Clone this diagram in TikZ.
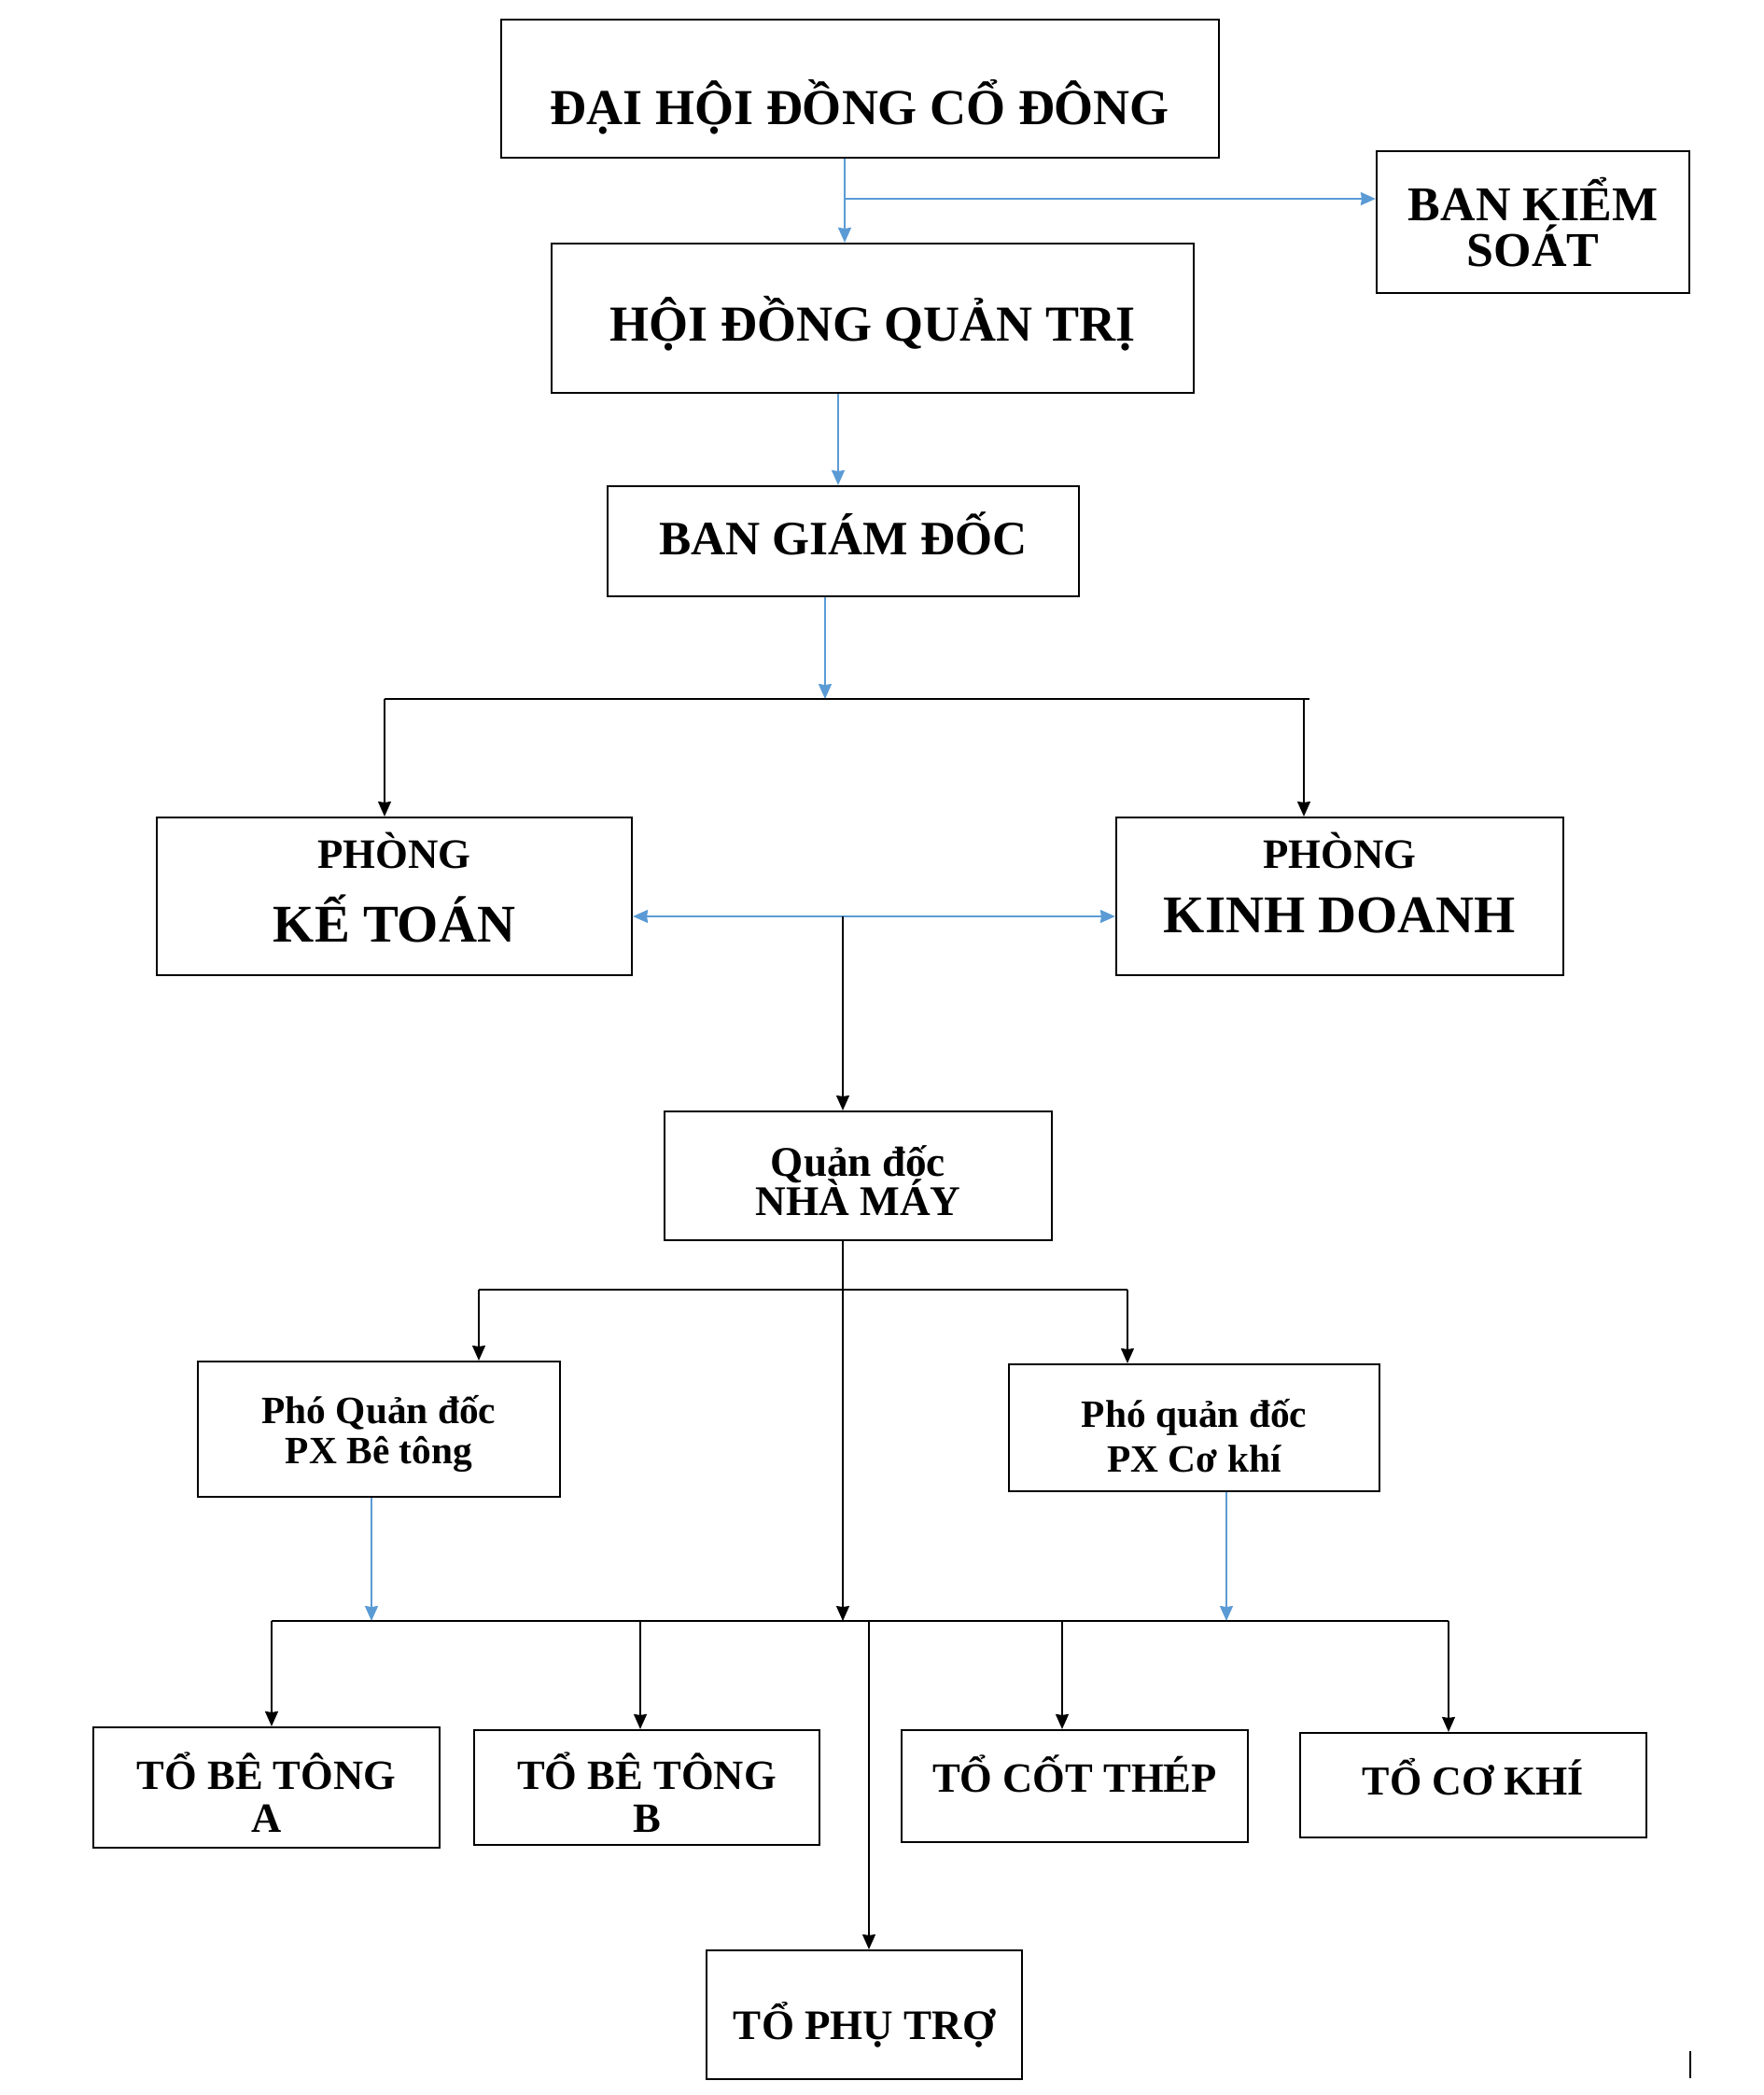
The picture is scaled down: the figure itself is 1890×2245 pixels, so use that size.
\documentclass[tikz,border=0pt]{standalone}
\usepackage{fontspec}
\setmainfont{Liberation Serif}
\usetikzlibrary{positioning,arrows.meta}
\definecolor{lineblue}{RGB}{91,155,213}
\newcommand{\cz}[2]{\bfseries\fontsize{#1}{#2}\selectfont\lineskiplimit=-30pt}

\begin{document}
\begin{tikzpicture}[>={Stealth[length=8pt,width=7pt,inset=0.5pt]}, x=0.5pt, y=-0.5pt,
  boxnode/.style={draw, line width=1.1pt, inner sep=0pt, align=center},
  bluearr/.style={->, draw=lineblue, line width=0.9pt},
  blackarr/.style={->, line width=0.8pt}]
\useasboundingbox (0,0) rectangle (1890,2245);
% boxes
\node[boxnode, minimum width=384.5pt, minimum height=74pt, font=\cz{27}{30}, text height=44pt, text depth=6pt] (dhdcd) at (921.5,95) {ĐẠI HỘI ĐỒNG CỔ ĐÔNG};
\node[boxnode, minimum width=167.5pt, minimum height=76pt, font=\cz{26}{24.3}] (bks) at (1642.5,238) {BAN KIỂM\\SOÁT};
\node[boxnode, minimum width=344pt, minimum height=80pt, font=\cz{27}{30}, text height=28pt, text depth=3.2pt] (hdqt) at (935,341) {HỘI ĐỒNG QUẢN TRỊ};
\node[boxnode, minimum width=252.5pt, minimum height=59pt, font=\cz{25.7}{30}, text height=22pt, text depth=8pt] (bgd) at (903.5,580) {BAN GIÁM ĐỐC};
\node[boxnode, minimum width=254.5pt, minimum height=84.5pt, font=\cz{28.4}{39.5}, text height=60pt, text depth=10.8pt] (pkt) at (422.5,960.5) {{\cz{22.4}{26}PHÒNG}\\KẾ TOÁN};
\node[boxnode, minimum width=239.5pt, minimum height=84.5pt, font=\cz{28.4}{34.5}, text height=52pt, text depth=12.8pt] (pkd) at (1435.5,960.5) {{\cz{22.4}{26}PHÒNG}\\KINH DOANH};
\node[boxnode, minimum width=207.5pt, minimum height=69pt, font=\cz{22.6}{20.8}, text height=45pt, text depth=3pt] (qd) at (919.5,1260) {Quản đốc\\NHÀ MÁY};
\node[boxnode, minimum width=194pt, minimum height=72.5pt, font=\cz{20.7}{21.5}, text height=40pt, text depth=2.8pt] (pqbt) at (406,1531.5) {Phó Quản đốc\\PX Bê tông};
\node[boxnode, minimum width=198.5pt, minimum height=68pt, font=\cz{20.7}{24.3}, text height=50pt, text depth=2.3pt] (pqck) at (1279.5,1530) {Phó quản đốc\\PX Cơ khí};
\node[boxnode, minimum width=185.5pt, minimum height=64.5pt, font=\cz{22.3}{22.9}, text height=52pt, text depth=3.8pt] (tbta) at (285.5,1915.5) {TỔ BÊ TÔNG\\A};
\node[boxnode, minimum width=185pt, minimum height=61.5pt, font=\cz{22.3}{22.9}, text height=52pt, text depth=3.8pt] (tbtb) at (693,1915.5) {TỔ BÊ TÔNG\\B};
\node[boxnode, minimum width=185.5pt, minimum height=60pt, font=\cz{22.3}{23}, text height=20pt, text depth=13.2pt] (tct) at (1151.5,1914) {TỔ CỐT THÉP};
\node[boxnode, minimum width=185.5pt, minimum height=56pt, font=\cz{22}{23}, text height=20pt, text depth=9.4pt] (tck) at (1578.5,1913) {TỔ CƠ KHÍ};
\node[boxnode, minimum width=169pt, minimum height=69pt, font=\cz{22.5}{23}, text height=30pt, text depth=3.2pt] (tpt) at (926,2159) {TỔ PHỤ TRỢ};
% upper part
\coordinate (k1) at (905,213);
\draw[bluearr] (dhdcd.south -| k1) -- (hdqt.north -| k1);
\draw[bluearr] (k1) -- (k1 -| bks.west);
\coordinate (k2) at (898,0);
\draw[bluearr] (hdqt.south -| k2) -- (bgd.north -| k2);
\coordinate (b1l) at (412,749);
\coordinate (b1r) at (1403,749);
\coordinate (b1m) at (884,749);
\coordinate (b1d) at (1397,749);
\draw[bluearr] (bgd.south -| b1m) -- (b1m);
\draw[line width=0.9pt] (b1l) -- (b1r);
\draw[blackarr] (b1l) -- (b1l |- pkt.north);
\draw[blackarr] (b1d) -- (b1d |- pkd.north);
\coordinate (m1) at (903,982);
\draw[bluearr, <->] (pkt.east |- m1) -- (pkd.west |- m1);
\draw[blackarr] (m1) -- (qd.north -| m1);
% lower part
\coordinate (b3m) at (903,1737);
\draw[blackarr] (qd.south -| b3m) -- (b3m);
\coordinate (b2l) at (513,1382);
\coordinate (b2r) at (1208,1382);
\draw[line width=0.9pt] (b2l) -- (b2r);
\draw[blackarr] (b2l) -- (b2l |- pqbt.north);
\draw[blackarr] (b2r) -- (b2r |- pqck.north);
\coordinate (b3a) at (398,1737);
\coordinate (b3b) at (1314,1737);
\draw[bluearr] (pqbt.south -| b3a) -- (b3a);
\draw[bluearr] (pqck.south -| b3b) -- (b3b);
\coordinate (b3l) at (291,1737);
\coordinate (b3r) at (1552,1737);
\draw[line width=0.9pt] (b3l) -- (b3r);
\foreach \p/\n in {291/tbta,686/tbtb,1138/tct,1552/tck}{
  \coordinate (d) at (\p,1737);
  \draw[blackarr] (d) -- (d |- \n.north);
}
\coordinate (b3p) at (931,1737);
\draw[blackarr] (b3p) -- (tpt.north -| b3p);
\draw[line width=0.8pt] (1811,2198) -- (1811,2227);
\end{tikzpicture}
\end{document}
